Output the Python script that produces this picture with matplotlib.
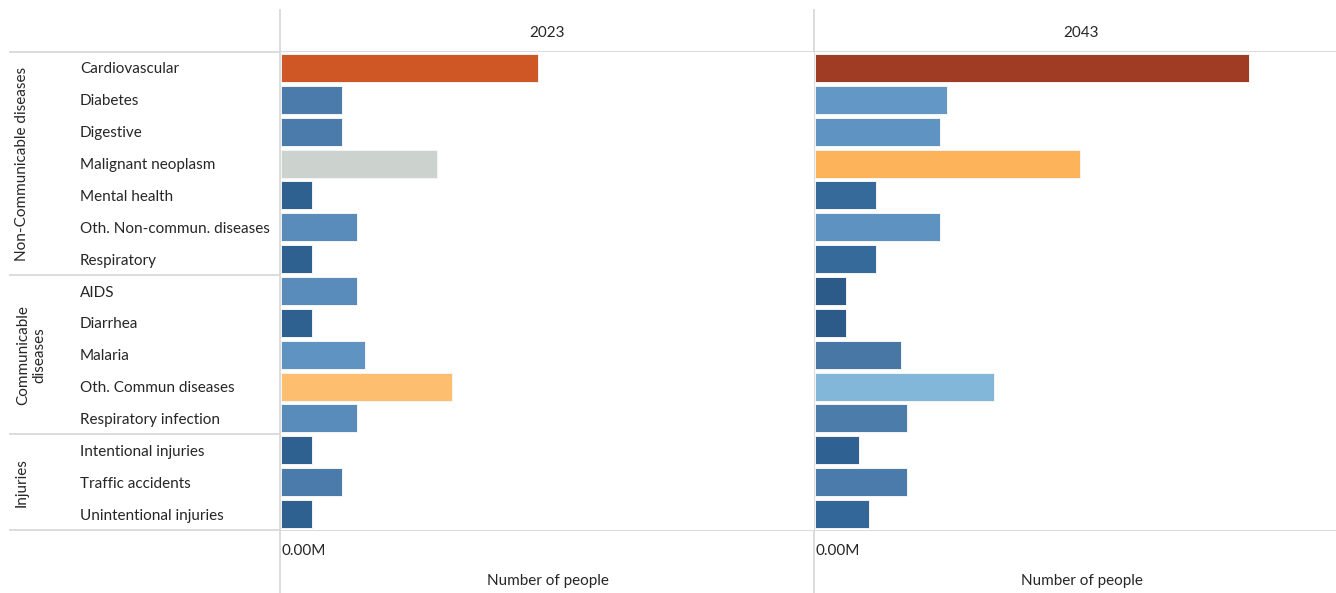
import matplotlib.pyplot as plt
from matplotlib.lines import Line2D
from matplotlib.ticker import FuncFormatter
from matplotlib.transforms import blended_transform_factory

# Disease burden by cause, in millions of people
causes = ['Cardiovascular', 'Diabetes', 'Digestive', 'Malignant neoplasm', 'Mental health',
          'Oth. Non-commun. diseases', 'Respiratory',
          'AIDS', 'Diarrhea', 'Malaria', 'Oth. Commun diseases', 'Respiratory infection',
          'Intentional injuries', 'Traffic accidents', 'Unintentional injuries']
groups = ['Non-Communicable diseases', 'Communicable\ndiseases', 'Injuries']
group_sizes = [7, 5, 3]
years = ['2023', '2043']

values_2023 = [1.68, 0.40, 0.40, 1.02, 0.20, 0.50, 0.20,
               0.50, 0.20, 0.55, 1.12, 0.50,
               0.20, 0.40, 0.20]
values_2043 = [2.84, 0.86, 0.82, 1.73, 0.40, 0.82, 0.40,
               0.20, 0.20, 0.56, 1.17, 0.60,
               0.29, 0.60, 0.35]

colors_2023 = ['#CF5726', '#4A7BAA', '#4A7BAA', '#CCD2CE', '#2F6190', '#5A8CBB', '#2F6190',
               '#5A8CBB', '#2F6190', '#5F93C2', '#FEBE70', '#5A8CBB',
               '#2F6190', '#4A7BAA', '#2F6190']
colors_2043 = ['#A03C23', '#6398C6', '#5E93C2', '#FDB35A', '#356A9A', '#5E92C1', '#356A9A',
               '#2C5A89', '#2C5A89', '#4877A6', '#83B7D9', '#4B7CAA',
               '#2F6292', '#4A7BAA', '#33679A']

plt.rcParams['font.family'] = ['Lato', 'DejaVu Sans']
TEXT = '#262626'
GRID = '#D9D9D9'
FS = 11
W, H = 1336, 593
XMAX = 3.484

fig = plt.figure(figsize=(W / 100, H / 100), dpi=100)
fig.patch.set_facecolor('white')

panel_w = 533 / W
bottom = (H - 530) / H
height = 478 / H
ax1 = fig.add_axes([281 / W, bottom, panel_w, height])
ax2 = fig.add_axes([815 / W, bottom, panel_w, height])

rows = list(range(len(causes)))
for ax, year, vals, cols in [(ax1, years[0], values_2023, colors_2023),
                             (ax2, years[1], values_2043, colors_2043)]:
    ax.barh(rows, vals, height=0.88, color=cols, edgecolor='#F4F4F4', linewidth=0.7)
    ax.set_ylim(len(causes) - 0.5, -0.5)
    ax.set_xlim(0, XMAX)
    for s in ax.spines.values():
        s.set_visible(False)
    ax.set_xticks([0])
    ax.xaxis.set_major_formatter(FuncFormatter(lambda v, p: f'{v:.2f}M'))
    ax.tick_params(axis='x', length=0, pad=10, labelsize=FS, labelcolor=TEXT)
    for lab in ax.get_xticklabels():
        lab.set_ha('left')
    ax.set_xlabel('Number of people', fontsize=FS, color=TEXT, labelpad=11.5)
    ax.set_title(year, fontsize=FS, color=TEXT, pad=10.5)
    ax.set_yticks([])

ax1.set_yticks(rows, causes)
ax1.tick_params(axis='y', length=0, pad=144.7, labelsize=FS, labelcolor=TEXT)
for lab in ax1.get_yticklabels():
    lab.set_ha('left')

# horizontal separators: top, between groups, bottom
trans = blended_transform_factory(fig.transFigure, ax1.transData)
edges = [-0.5]
for n in group_sizes:
    edges.append(edges[-1] + n)
for y in edges:
    fig.add_artist(Line2D([10 / W, 1], [y, y], transform=trans, color=GRID, lw=1.3, zorder=0))

# vertical panel dividers
for x in [280 / W, 814 / W]:
    fig.add_artist(Line2D([x, x], [0, 1 - 10 / H], transform=fig.transFigure,
                          color=GRID, lw=1.3, zorder=0))

# rotated group labels
for i, name in enumerate(groups):
    mid = (edges[i] + edges[i + 1]) / 2
    xpos = 31 / W if '\n' in name else 22 / W
    fig.text(xpos, 0, name, transform=trans, rotation=90, ha='center', va='center',
             fontsize=FS, color=TEXT, linespacing=1.2)
    fig.texts[-1].set_y(mid)

fig.savefig('out.png', dpi=100, facecolor='white')
